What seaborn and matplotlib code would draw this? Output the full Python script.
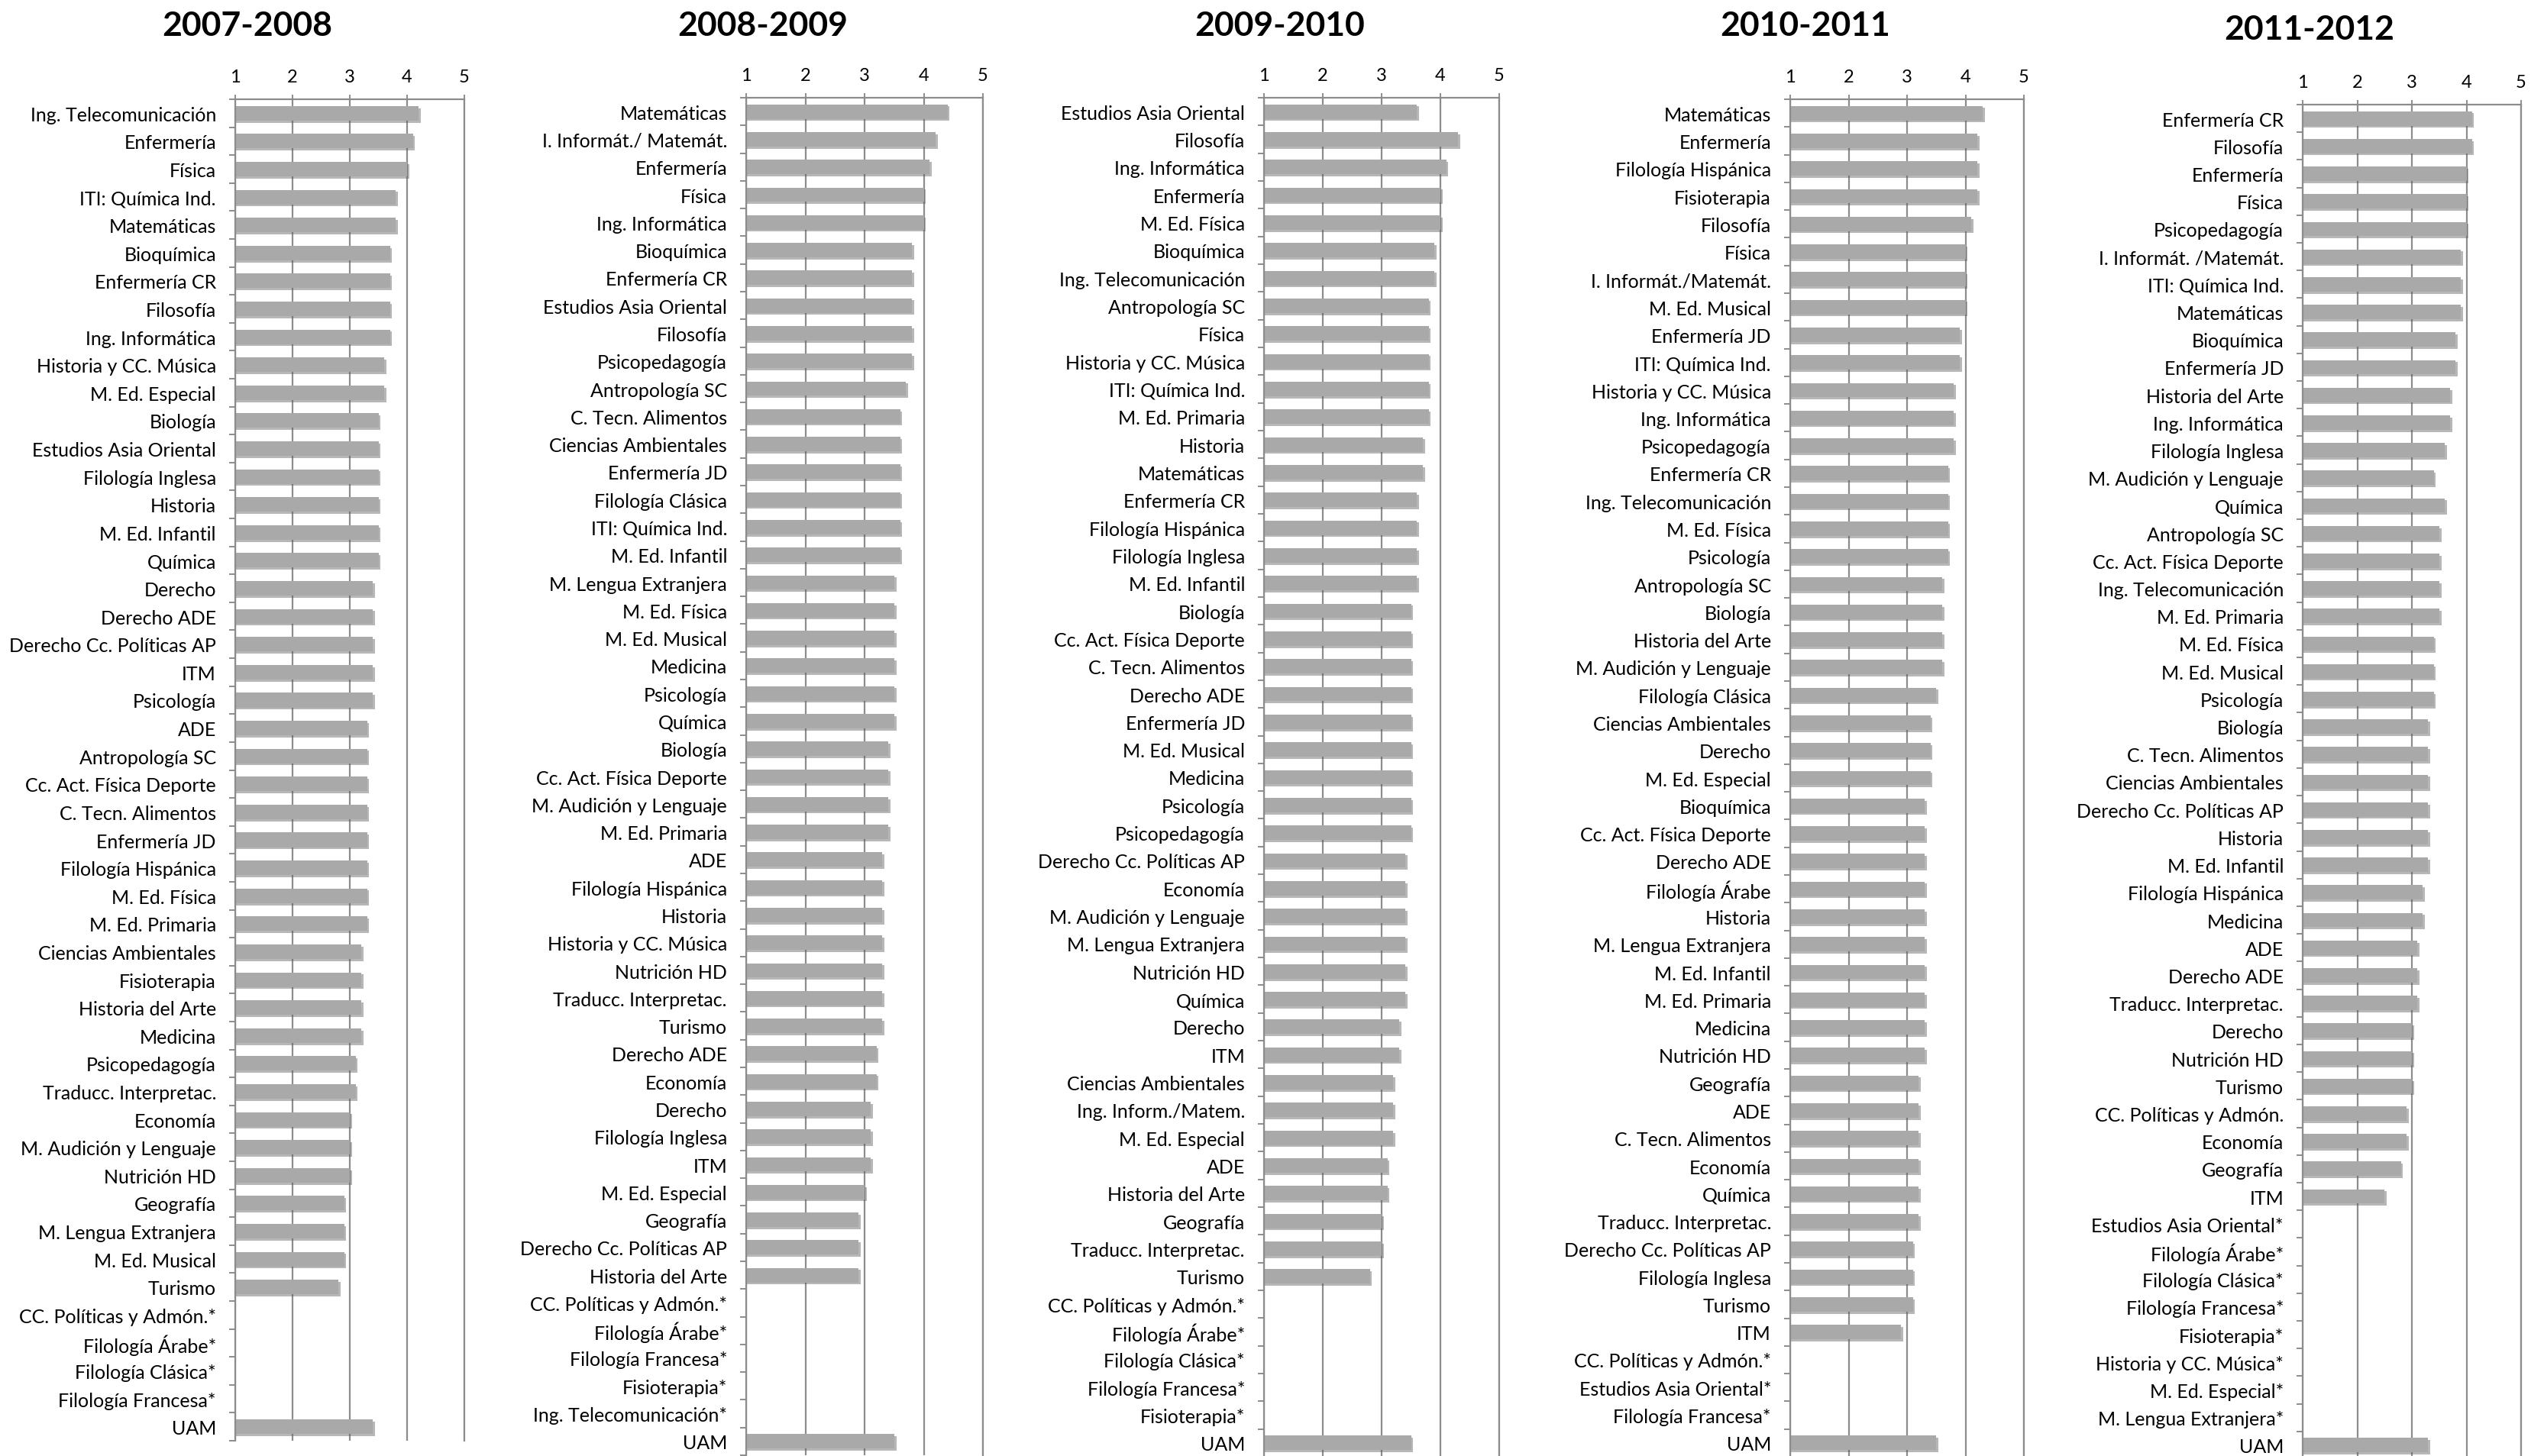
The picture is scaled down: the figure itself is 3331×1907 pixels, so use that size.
import numpy as np
import pandas as pd
import matplotlib
matplotlib.use("Agg")
import matplotlib.pyplot as plt
import matplotlib.patheffects as pe
import seaborn as sns

NA = np.nan

titles = ["2007-2008", "2008-2009", "2009-2010", "2010-2011", "2011-2012"]

cats_0708 = ["Ing. Telecomunicación", "Enfermería", "Física", "ITI: Química Ind.", "Matemáticas",
             "Bioquímica", "Enfermería CR", "Filosofía", "Ing. Informática", "Historia y CC. Música",
             "M. Ed. Especial", "Biología", "Estudios Asia Oriental", "Filología Inglesa", "Historia",
             "M. Ed. Infantil", "Química", "Derecho", "Derecho ADE", "Derecho Cc. Políticas AP",
             "ITM", "Psicología", "ADE", "Antropología SC", "Cc. Act. Física Deporte",
             "C. Tecn. Alimentos", "Enfermería JD", "Filología Hispánica", "M. Ed. Física", "M. Ed. Primaria",
             "Ciencias Ambientales", "Fisioterapia", "Historia del Arte", "Medicina", "Psicopedagogía",
             "Traducc. Interpretac.", "Economía", "M. Audición y Lenguaje", "Nutrición HD", "Geografía",
             "M. Lengua Extranjera", "M. Ed. Musical", "Turismo", "CC. Políticas y Admón.*", "Filología Árabe*",
             "Filología Clásica*", "Filología Francesa*", "UAM"]
vals_0708 = [4.2, 4.1, 4.0, 3.8, 3.8,
             3.7, 3.7, 3.7, 3.7, 3.6,
             3.6, 3.5, 3.5, 3.5, 3.5,
             3.5, 3.5, 3.4, 3.4, 3.4,
             3.4, 3.4, 3.3, 3.3, 3.3,
             3.3, 3.3, 3.3, 3.3, 3.3,
             3.2, 3.2, 3.2, 3.2, 3.1,
             3.1, 3.0, 3.0, 3.0, 2.9,
             2.9, 2.9, 2.8, NA, NA,
             NA, NA, 3.4]

cats_0809 = ["Matemáticas", "I. Informát./ Matemát.", "Enfermería", "Física", "Ing. Informática",
             "Bioquímica", "Enfermería CR", "Estudios Asia Oriental", "Filosofía", "Psicopedagogía",
             "Antropología SC", "C. Tecn. Alimentos", "Ciencias Ambientales", "Enfermería JD", "Filología Clásica",
             "ITI: Química Ind.", "M. Ed. Infantil", "M. Lengua Extranjera", "M. Ed. Física", "M. Ed. Musical",
             "Medicina", "Psicología", "Química", "Biología", "Cc. Act. Física Deporte",
             "M. Audición y Lenguaje", "M. Ed. Primaria", "ADE", "Filología Hispánica", "Historia",
             "Historia y CC. Música", "Nutrición HD", "Traducc. Interpretac.", "Turismo", "Derecho ADE",
             "Economía", "Derecho", "Filología Inglesa", "ITM", "M. Ed. Especial",
             "Geografía", "Derecho Cc. Políticas AP", "Historia del Arte", "CC. Políticas y Admón.*", "Filología Árabe*",
             "Filología Francesa*", "Fisioterapia*", "Ing. Telecomunicación*", "UAM"]
vals_0809 = [4.4, 4.2, 4.1, 4.0, 4.0,
             3.8, 3.8, 3.8, 3.8, 3.8,
             3.7, 3.6, 3.6, 3.6, 3.6,
             3.6, 3.6, 3.5, 3.5, 3.5,
             3.5, 3.5, 3.5, 3.4, 3.4,
             3.4, 3.4, 3.3, 3.3, 3.3,
             3.3, 3.3, 3.3, 3.3, 3.2,
             3.2, 3.1, 3.1, 3.1, 3.0,
             2.9, 2.9, 2.9, NA, NA,
             NA, NA, NA, 3.5]

cats_0910 = ["Estudios Asia Oriental", "Filosofía", "Ing. Informática", "Enfermería", "M. Ed. Física",
             "Bioquímica", "Ing. Telecomunicación", "Antropología SC", "Física", "Historia y CC. Música",
             "ITI: Química Ind.", "M. Ed. Primaria", "Historia", "Matemáticas", "Enfermería CR",
             "Filología Hispánica", "Filología Inglesa", "M. Ed. Infantil", "Biología", "Cc. Act. Física Deporte",
             "C. Tecn. Alimentos", "Derecho ADE", "Enfermería JD", "M. Ed. Musical", "Medicina",
             "Psicología", "Psicopedagogía", "Derecho Cc. Políticas AP", "Economía", "M. Audición y Lenguaje",
             "M. Lengua Extranjera", "Nutrición HD", "Química", "Derecho", "ITM",
             "Ciencias Ambientales", "Ing. Inform./Matem.", "M. Ed. Especial", "ADE", "Historia del Arte",
             "Geografía", "Traducc. Interpretac.", "Turismo", "CC. Políticas y Admón.*", "Filología Árabe*",
             "Filología Clásica*", "Filología Francesa*", "Fisioterapia*", "UAM"]
vals_0910 = [3.6, 4.3, 4.1, 4.0, 4.0,
             3.9, 3.9, 3.8, 3.8, 3.8,
             3.8, 3.8, 3.7, 3.7, 3.6,
             3.6, 3.6, 3.6, 3.5, 3.5,
             3.5, 3.5, 3.5, 3.5, 3.5,
             3.5, 3.5, 3.4, 3.4, 3.4,
             3.4, 3.4, 3.4, 3.3, 3.3,
             3.2, 3.2, 3.2, 3.1, 3.1,
             3.0, 3.0, 2.8, NA, NA,
             NA, NA, NA, 3.5]

cats_1011 = ["Matemáticas", "Enfermería", "Filología Hispánica", "Fisioterapia", "Filosofía",
             "Física", "I. Informát./Matemát.", "M. Ed. Musical", "Enfermería JD", "ITI: Química Ind.",
             "Historia y CC. Música", "Ing. Informática", "Psicopedagogía", "Enfermería CR", "Ing. Telecomunicación",
             "M. Ed. Física", "Psicología", "Antropología SC", "Biología", "Historia del Arte",
             "M. Audición y Lenguaje", "Filología Clásica", "Ciencias Ambientales", "Derecho", "M. Ed. Especial",
             "Bioquímica", "Cc. Act. Física Deporte", "Derecho ADE", "Filología Árabe", "Historia",
             "M. Lengua Extranjera", "M. Ed. Infantil", "M. Ed. Primaria", "Medicina", "Nutrición HD",
             "Geografía", "ADE", "C. Tecn. Alimentos", "Economía", "Química",
             "Traducc. Interpretac.", "Derecho Cc. Políticas AP", "Filología Inglesa", "Turismo", "ITM",
             "CC. Políticas y Admón.*", "Estudios Asia Oriental*", "Filología Francesa*", "UAM"]
vals_1011 = [4.3, 4.2, 4.2, 4.2, 4.1,
             4.0, 4.0, 4.0, 3.9, 3.9,
             3.8, 3.8, 3.8, 3.7, 3.7,
             3.7, 3.7, 3.6, 3.6, 3.6,
             3.6, 3.5, 3.4, 3.4, 3.4,
             3.3, 3.3, 3.3, 3.3, 3.3,
             3.3, 3.3, 3.3, 3.3, 3.3,
             3.2, 3.2, 3.2, 3.2, 3.2,
             3.2, 3.1, 3.1, 3.1, 2.9,
             NA, NA, NA, 3.5]

cats_1112 = ["Enfermería CR", "Filosofía", "Enfermería", "Física", "Psicopedagogía",
             "I. Informát. /Matemát.", "ITI: Química Ind.", "Matemáticas", "Bioquímica", "Enfermería JD",
             "Historia del Arte", "Ing. Informática", "Filología Inglesa", "M. Audición y Lenguaje", "Química",
             "Antropología SC", "Cc. Act. Física Deporte", "Ing. Telecomunicación", "M. Ed. Primaria", "M. Ed. Física",
             "M. Ed. Musical", "Psicología", "Biología", "C. Tecn. Alimentos", "Ciencias Ambientales",
             "Derecho Cc. Políticas AP", "Historia", "M. Ed. Infantil", "Filología Hispánica", "Medicina",
             "ADE", "Derecho ADE", "Traducc. Interpretac.", "Derecho", "Nutrición HD",
             "Turismo", "CC. Políticas y Admón.", "Economía", "Geografía", "ITM",
             "Estudios Asia Oriental*", "Filología Árabe*", "Filología Clásica*", "Filología Francesa*", "Fisioterapia*",
             "Historia y CC. Música*", "M. Ed. Especial*", "M. Lengua Extranjera*", "UAM"]
vals_1112 = [4.1, 4.1, 4.0, 4.0, 4.0,
             3.9, 3.9, 3.9, 3.8, 3.8,
             3.7, 3.7, 3.6, 3.4, 3.6,
             3.5, 3.5, 3.5, 3.5, 3.4,
             3.4, 3.4, 3.3, 3.3, 3.3,
             3.3, 3.3, 3.3, 3.2, 3.2,
             3.1, 3.1, 3.1, 3.0, 3.0,
             3.0, 2.9, 2.9, 2.8, 2.5,
             NA, NA, NA, NA, NA,
             NA, NA, NA, 3.3]

panels = [(cats_0708, vals_0708), (cats_0809, vals_0809), (cats_0910, vals_0910),
          (cats_1011, vals_1011), (cats_1112, vals_1112)]

# layout (pixels in a 3331 x 1908 canvas): left, right, top, bottom of plot area; title centre
W, H = 3331, 1908
boxes = [(308, 608, 131, 1888), (977, 1287, 129, 1907), (1655, 1963, 129, 1909),
         (2344, 2650, 131, 1909), (3015, 3301, 138, 1912)]
title_pos = [(324, 34), (999, 34), (1676, 34), (2364, 34), (3024, 39)]

sns.set_theme(style="white")
plt.rcParams["font.family"] = ["Lato", "DejaVu Sans"]

fig = plt.figure(figsize=(W / 100, H / 100), dpi=100)
fig.patch.set_facecolor("white")

grid_col = "#8C8C8C"
bar_col = "#A9A9A9"

for (cats, vals), (l, r, t, b), title, (tx, ty) in zip(panels, boxes, titles, title_pos):
    ax = fig.add_axes([l / W, 1 - b / H, (r - l) / W, (b - t) / H])
    df = pd.DataFrame({"cat": cats, "val": vals})
    sns.barplot(data=df, x="val", y="cat", order=cats, orient="h", color=bar_col,
                saturation=1, width=0.52, errorbar=None, ax=ax)
    for p in ax.patches:
        p.set_edgecolor("none")
        p.set_path_effects([pe.SimplePatchShadow(offset=(2, -2), shadow_rgbFace="#606060", alpha=0.45),
                            pe.Normal()])
    ax.set_xlim(1, 5)
    ax.set_ylim(len(cats) - 0.5, -0.5)
    ax.set_xlabel("")
    ax.set_ylabel("")
    ax.xaxis.tick_top()
    ax.set_xticks([1, 2, 3, 4, 5])
    ax.set_xticklabels(["1", "2", "3", "4", "5"])
    ax.grid(axis="x", color=grid_col, lw=1.6)
    ax.grid(axis="y", visible=False)
    ax.set_axisbelow(True)
    ax.spines["bottom"].set_visible(False)
    for s in ["top", "left", "right"]:
        ax.spines[s].set_color(grid_col)
        ax.spines[s].set_linewidth(1.6)
    ax.set_yticks(np.arange(len(cats) + 1) - 0.5, minor=True)
    ax.tick_params(axis="y", which="major", length=0, pad=18, labelsize=18, labelcolor="black")
    ax.tick_params(axis="y", which="minor", length=6, width=1.4, color=grid_col, direction="out", left=True)
    ax.tick_params(axis="x", which="major", length=4, width=1.4, color=grid_col, pad=10,
                   labelsize=17, labelcolor="black", top=True, bottom=False)
    fig.text(tx / W, 1 - ty / H, title, ha="center", va="center", fontsize=32, fontweight="bold",
             color="black")

fig.savefig("out.png", dpi=100, facecolor="white")
